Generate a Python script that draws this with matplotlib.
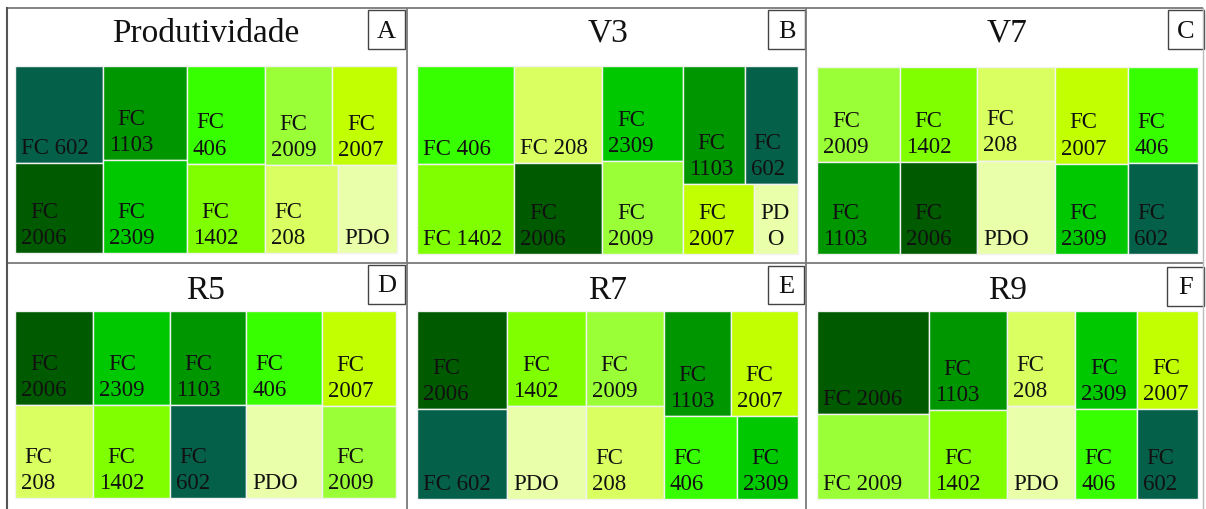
import matplotlib
matplotlib.use("Agg")
import matplotlib.pyplot as plt
from matplotlib.patches import Rectangle

# ---------------------------------------------------------------------------
# Data: relative share of each cultivar per stage (treemap weights)
# ---------------------------------------------------------------------------
prod_names = ["FC 602", "FC 2006", "FC 1103", "FC 2309", "FC 406",
              "FC 1402", "FC 2009", "FC 2007", "FC 208", "PDO"]
prod_values = [75.7, 70.5, 70.0, 69.8, 68.0, 62.4, 59.6, 57.5, 57.1, 45.9]

v3_names = ["FC 406", "FC 1402", "FC 208", "FC 2006", "FC 2309",
            "FC 2009", "FC 1103", "FC 602", "FC 2007", "PDO"]
v3_values = [85.3, 78.0, 75.7, 71.3, 68.7, 67.5, 64.6, 56.1, 44.5, 27.3]

v7_names = ["FC 2009", "FC 1103", "FC 1402", "FC 2006", "FC 208",
            "PDO", "FC 2007", "FC 2309", "FC 406", "FC 602"]
v7_values = [69.9, 67.9, 65.3, 63.5, 64.7, 64.7, 63.3, 59.3, 60.1, 56.4]

r5_names = ["FC 2006", "FC 208", "FC 2309", "FC 1402", "FC 1103",
            "FC 602", "FC 406", "PDO", "FC 2007", "FC 2009"]
r5_values = [65.2, 64.5, 64.6, 63.9, 63.5, 62.8, 63.2, 62.6, 62.5, 61.0]

r7_names = ["FC 2006", "FC 602", "FC 1402", "PDO", "FC 2009",
            "FC 208", "FC 1103", "FC 2007", "FC 406", "FC 2309"]
r7_values = [78.0, 72.1, 66.5, 64.6, 65.9, 64.0, 62.3, 62.6, 53.6, 45.0]

r9_names = ["FC 2006", "FC 2009", "FC 1103", "FC 1402", "FC 208",
            "PDO", "FC 2309", "FC 2007", "FC 406", "FC 602"]
r9_values = [102.6, 83.9, 67.9, 61.4, 57.4, 56.2, 53.8, 52.4, 49.8, 48.4]

panel_titles = ["Produtividade", "V3", "V7", "R5", "R7", "R9"]
panel_letters = ["A", "B", "C", "D", "E", "F"]

# ---------------------------------------------------------------------------
# Styling
# ---------------------------------------------------------------------------
cultivar_colors = {
    "FC 602": "#05604A",
    "FC 2006": "#005B00",
    "FC 1103": "#009600",
    "FC 2309": "#00C800",
    "FC 406": "#38FF00",
    "FC 1402": "#80FF00",
    "FC 2009": "#9BFF38",
    "FC 2007": "#C2FF00",
    "FC 208": "#D9FF60",
    "PDO": "#E9FFAA",
}

# strip orientation for each pair of tiles (column = stacked, row = side by side)
strip_plan = {
    "A": ["col", "col", "col", "row", "row"],
    "B": ["col", "col", "col", "row", "row"],
    "C": ["col", "col", "col", "col", "col"],
    "D": ["col", "col", "col", "col", "col"],
    "E": ["col", "col", "col", "row", "row"],
    "F": ["col", "col", "col", "row", "row"],
}

W_PX, H_PX, DPI = 1206, 510, 100
SERIF = "Liberation Serif"
LABEL_PT = 16.5
TITLE_PT = 24
LETTER_PT = 19


def strip_layout(values, strips, x0, y0, w, h):
    """Pairwise strip treemap; y grows downwards."""
    scale = w * h / float(sum(values))
    rects = []
    i = 0
    for orient in strips:
        grp = values[i:i + 2]
        area = sum(grp) * scale
        if orient == "col":
            cw = area / h
            yy = y0
            for v in grp:
                rh = v * scale / cw
                rects.append((x0, yy, cw, rh))
                yy += rh
            x0 += cw
            w -= cw
        else:
            rh = area / w
            xx = x0
            for v in grp:
                rw = v * scale / rh
                rects.append((xx, y0, rw, rh))
                xx += rw
            y0 += rh
            h -= rh
        i += 2
    return rects


fig = plt.figure(figsize=(W_PX / DPI, H_PX / DPI), dpi=DPI)
ax = fig.add_axes([0, 0, 1, 1])
ax.set_xlim(0, W_PX)
ax.set_ylim(H_PX, 0)
ax.axis("off")
renderer = fig.canvas.get_renderer()


def text_width(s):
    t = ax.text(0, 0, s, fontsize=LABEL_PT, family=SERIF)
    wd = t.get_window_extent(renderer=renderer).width
    t.remove()
    return wd


def wrap_label(label, avail):
    if text_width(label) <= avail:
        return label
    lines = []
    for word in label.split(" "):
        if text_width(word) <= avail:
            lines.append(word)
            continue
        cur = ""
        for ch in word:
            if cur and text_width(cur + ch) > avail:
                lines.append(cur)
                cur = ch
            else:
                cur += ch
        lines.append(cur)
    return "\n".join(lines)


panel_data = [
    (prod_names, prod_values),
    (v3_names, v3_values),
    (v7_names, v7_values),
    (r5_names, r5_values),
    (r7_names, r7_values),
    (r9_names, r9_values),
]

# tile area of each panel (x, y, width, height) in pixels
tile_boxes = [
    (15, 67, 382, 187), (417, 67, 381, 188), (817, 68, 381, 187),
    (15, 312, 381, 187), (417, 312, 381, 188), (817, 312, 381, 188),
]
title_baselines = [42, 42, 42, 299, 299, 299]
letter_boxes = [
    (368, 11, 37, 39), (768, 11, 37, 39), (1168, 11, 36, 39),
    (368, 266, 37, 39), (768, 267, 36, 38), (1167, 268, 37, 39),
]

for k, ((names, values), (bx, by, bw, bh)) in enumerate(zip(panel_data, tile_boxes)):
    letter = panel_letters[k]
    rects = strip_layout(values, strip_plan[letter], bx, by, bw, bh)
    for name, (x, y, w, h) in zip(names, rects):
        ax.add_patch(Rectangle((x, y), w, h, facecolor=cultivar_colors[name],
                               edgecolor="#F2F2F2", linewidth=1.0))
        lab = wrap_label(name, w - 13)
        ax.text(x + 6, y + h - 5, lab, ha="left", va="bottom",
                multialignment="center", fontsize=LABEL_PT, family=SERIF,
                color="#111111", linespacing=1.32)

    ax.text(bx + bw / 2, title_baselines[k], panel_titles[k], ha="center",
            va="baseline", fontsize=TITLE_PT, family=SERIF, color="#111111")

    lx, ly, lw, lh = letter_boxes[k]
    ax.add_patch(Rectangle((lx, ly), lw, lh, facecolor="white",
                           edgecolor="#444444", linewidth=1.0))
    ax.text(lx + lw / 2, ly + lh / 2 + 1, letter, ha="center", va="center",
            fontsize=LETTER_PT, family=SERIF, color="#111111")

# panel frame lines
frame_kw = dict(color="#7A7A7A", linewidth=1.3, solid_capstyle="butt")
ax.plot([7, 1203], [9, 9], **frame_kw)
ax.plot([7, 1203], [264, 264], **frame_kw)
ax.plot([7, 7], [9, 510], color="#555555", linewidth=1.5)
ax.plot([407, 407], [9, 510], **frame_kw)
ax.plot([806, 806], [9, 510], **frame_kw)
ax.plot([1203, 1203], [9, 510], color="#BBBBBB", linewidth=1.0)

fig.savefig("out.png", dpi=DPI)
